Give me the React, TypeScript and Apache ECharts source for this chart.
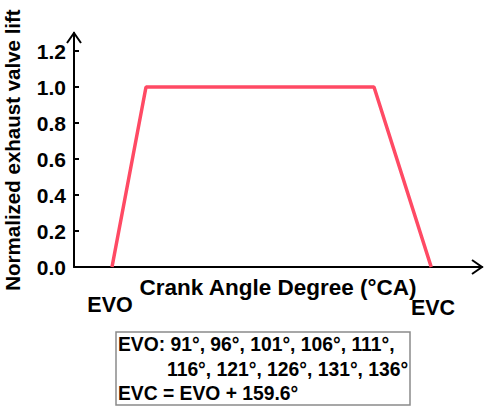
import React, { useEffect, useRef } from "react";
import * as echarts from "echarts";

const crankAngle = [91, 108, 222, 250.6];
const valveLift = [0, 1, 1, 0];
const yTicks = [0, 0.2, 0.4, 0.6, 0.8, 1.0, 1.2];
const xName = "Crank Angle Degree (°CA)";
const yName = "Normalized exhaust valve lift";
const boxLines = [
  "EVO: 91°, 96°, 101°, 106°, 111°,",
  "116°, 121°, 126°, 131°, 136°",
  "EVC = EVO + 159.6°",
];

const FONT = "'Liberation Sans', Arial, sans-serif";

export default function App() {
  const ref = useRef<HTMLDivElement>(null);
  useEffect(() => {
    if (!ref.current) return;
    const chart = echarts.init(ref.current, null, { renderer: "svg" });
    chart.setOption({
      animation: false,
      backgroundColor: "#fff",
      grid: { left: 74, right: 2, top: 33, bottom: 139, containLabel: false, outerBoundsMode: "none" },
      xAxis: {
        type: "value",
        min: 72,
        max: 276,
        name: xName,
        nameLocation: "middle",
        nameGap: 9,
        nameTextStyle: { fontFamily: FONT, fontWeight: "bold", fontSize: 22.5, color: "#000", verticalAlign: "top" },
        axisLine: { show: true, lineStyle: { color: "#000", width: 2 } },
        axisTick: { show: false },
        axisLabel: { show: false },
        splitLine: { show: false },
      },
      yAxis: {
        type: "value",
        min: 0,
        max: 1.3,
        name: yName,
        nameLocation: "middle",
        nameGap: 51,
        nameTextStyle: { fontFamily: FONT, fontWeight: "bold", fontSize: 20.5, lineHeight: 21, color: "#000" },
        axisLine: { show: true, lineStyle: { color: "#000", width: 2 } },
        axisTick: { show: true, inside: true, length: 5, customValues: yTicks, lineStyle: { color: "#000", width: 2 } },
        axisLabel: {
          customValues: yTicks,
          margin: 8,
          fontFamily: FONT,
          fontWeight: "bold",
          fontSize: 21,
          color: "#000",
          formatter: (v: number) => v.toFixed(1),
        },
        splitLine: { show: false },
      },
      series: [
        {
          type: "line",
          data: crankAngle.map((x, i) => [x, valveLift[i]]),
          symbol: "none",
          lineStyle: { color: "#ff4a64", width: 3.5 },
        },
      ],
      graphic: [
        { type: "polyline", shape: { points: [[67, 43], [74, 33], [81, 43]] }, style: { stroke: "#000", lineWidth: 2, fill: "none" } },
        { type: "polyline", shape: { points: [[472, 260], [482, 267], [472, 274]] }, style: { stroke: "#000", lineWidth: 2, fill: "none" } },
        { type: "text", x: 110, y: 305, style: { text: "EVO", font: `bold 21.5px ${FONT}`, fill: "#000", align: "center", verticalAlign: "middle" } },
        { type: "text", x: 433, y: 308, style: { text: "EVC", font: `bold 21.5px ${FONT}`, fill: "#000", align: "center", verticalAlign: "middle" } },
        { type: "rect", shape: { x: 116, y: 332, width: 294, height: 73 }, style: { stroke: "#8a8a8a", lineWidth: 1.5, fill: "#fff" } },
        { type: "text", x: 118, y: 344, style: { text: boxLines[0], font: `bold 19.3px ${FONT}`, fill: "#000", align: "left", verticalAlign: "middle" } },
        { type: "text", x: 167, y: 369, style: { text: boxLines[1], font: `bold 19.3px ${FONT}`, fill: "#000", align: "left", verticalAlign: "middle" } },
        { type: "text", x: 118, y: 393, style: { text: boxLines[2], font: `bold 19.3px ${FONT}`, fill: "#000", align: "left", verticalAlign: "middle" } },
      ],
    });
    return () => chart.dispose();
  }, []);
  return <div ref={ref} style={{ position: "fixed", left: 0, top: 0, width: 484, height: 406 }} />;
}
